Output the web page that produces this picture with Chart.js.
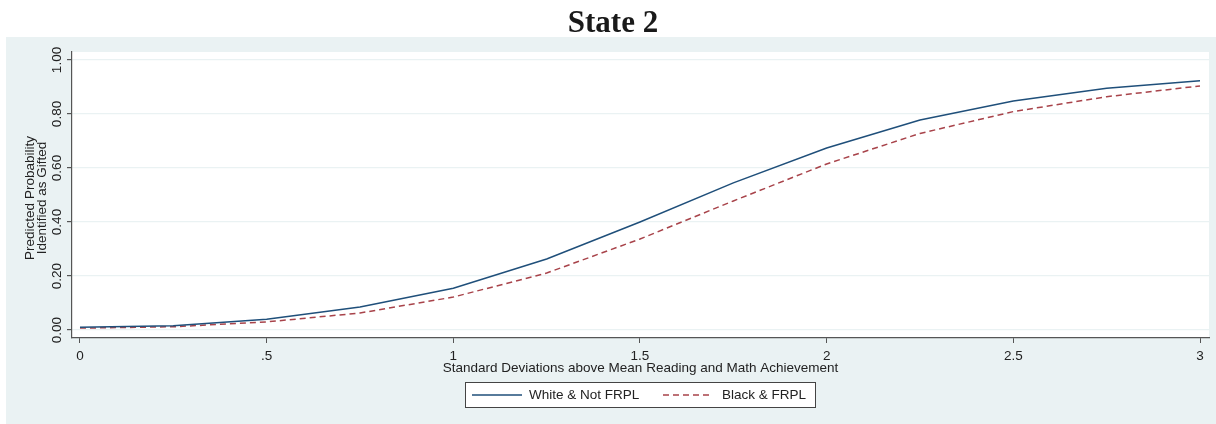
<!DOCTYPE html>
<html lang="en">
<head>
    <meta charset="UTF-8">
    <script src="https://cdn.jsdelivr.net/npm/chart.js"></script>
    <title>State 2</title>
    <style>
        body, html {
            margin: 0;
            padding: 0;
            background: #ffffff;
            overflow: hidden;
        }
        #chart-canvas {
            display: block;
        }
    </style>
</head>
<body>
    <canvas id="chart-canvas" width="1216" height="424"></canvas>
    <script>
        // values
        const sdValues = [0, 0.25, 0.5, 0.75, 1, 1.25, 1.5, 1.75, 2, 2.25, 2.5, 2.75, 3]
        const whiteNotFrpl = [0.010, 0.016, 0.040, 0.085, 0.155, 0.263, 0.400, 0.545, 0.674, 0.778, 0.848, 0.895, 0.923]
        const blackFrpl = [0.007, 0.012, 0.030, 0.063, 0.122, 0.211, 0.337, 0.478, 0.615, 0.728, 0.809, 0.864, 0.904]
        const xTicks = [0, 0.5, 1, 1.5, 2, 2.5, 3]
        const xTickLabels = ['0', '.5', '1', '1.5', '2', '2.5', '3']
        const yTicks = [0, 0.2, 0.4, 0.6, 0.8, 1]
        const yTickLabels = ['0.00', '0.20', '0.40', '0.60', '0.80', '1.00']
        const seriesNames = ['White & Not FRPL', 'Black & FRPL']

        const navy = '#1f4f7a'
        const maroon = '#a8434a'
        const panelColor = '#eaf2f3'
        const axisColor = '#555555'
        const textColor = '#222222'
        const sansFont = '"Liberation Sans", Arial, sans-serif'

        function toPoints(values) {
            return sdValues.map((x, i) => ({ x: x, y: values[i] }))
        }

        const decorPlugin = {
            id: 'decor',
            beforeDraw(chart) {
                const ctx = chart.ctx
                const area = chart.chartArea
                ctx.save()
                ctx.fillStyle = '#ffffff'
                ctx.fillRect(0, 0, chart.width, chart.height)
                ctx.fillStyle = panelColor
                ctx.fillRect(6, 37, chart.width - 6, chart.height - 37)
                ctx.fillStyle = '#ffffff'
                ctx.fillRect(area.left, area.top, area.right - area.left, area.bottom - area.top)
                ctx.restore()
            },
            afterDraw(chart) {
                const ctx = chart.ctx
                const yScale = chart.scales.y
                const area = chart.chartArea
                ctx.save()

                // title
                ctx.fillStyle = '#1a1a1a'
                ctx.font = 'bold 31px "Liberation Serif", "Times New Roman", serif'
                ctx.textAlign = 'center'
                ctx.textBaseline = 'alphabetic'
                ctx.fillText('State 2', 613, 32)

                // y tick labels, vertical like the original
                ctx.font = '13.5px ' + sansFont
                ctx.fillStyle = textColor
                ctx.textAlign = 'center'
                ctx.textBaseline = 'middle'
                yTicks.forEach((v, i) => {
                    const py = yScale.getPixelForValue(v)
                    ctx.save()
                    ctx.translate(57, py)
                    ctx.rotate(-Math.PI / 2)
                    ctx.fillText(yTickLabels[i], 0, 0)
                    ctx.restore()
                })

                // y axis title (two lines)
                ctx.save()
                ctx.translate(0, (area.top + area.bottom) / 2 + 3)
                ctx.rotate(-Math.PI / 2)
                ctx.fillText('Predicted Probability', 0, 30)
                ctx.fillText('Identified as Gifted', 0, 42)
                ctx.restore()

                // x axis title
                ctx.textAlign = 'center'
                ctx.textBaseline = 'middle'
                ctx.fillText('Standard Deviations above Mean Reading and Math Achievement', (area.left + area.right) / 2, 368)

                // legend
                ctx.fillStyle = '#ffffff'
                ctx.fillRect(465, 382, 350, 25)
                ctx.strokeStyle = '#444444'
                ctx.lineWidth = 1
                ctx.strokeRect(465.5, 382.5, 350, 25)

                ctx.lineWidth = 1.5
                ctx.strokeStyle = navy
                ctx.beginPath()
                ctx.moveTo(472, 395)
                ctx.lineTo(522, 395)
                ctx.stroke()

                ctx.strokeStyle = maroon
                ctx.setLineDash([6, 4])
                ctx.beginPath()
                ctx.moveTo(663, 395)
                ctx.lineTo(713, 395)
                ctx.stroke()
                ctx.setLineDash([])

                ctx.fillStyle = textColor
                ctx.textAlign = 'left'
                ctx.fillText(seriesNames[0], 529, 395)
                ctx.fillText(seriesNames[1], 722, 395)

                ctx.restore()
            }
        }

        const ctx = document.getElementById('chart-canvas').getContext('2d')
        const chart = new Chart(ctx, {
            type: 'line',
            data: {
                datasets: [
                    {
                        label: seriesNames[0],
                        data: toPoints(whiteNotFrpl),
                        borderColor: navy,
                        borderWidth: 1.5,
                        pointRadius: 0,
                        tension: 0,
                        fill: false
                    },
                    {
                        label: seriesNames[1],
                        data: toPoints(blackFrpl),
                        borderColor: maroon,
                        borderWidth: 1.5,
                        borderDash: [6, 4],
                        pointRadius: 0,
                        tension: 0,
                        fill: false
                    }
                ]
            },
            options: {
                responsive: false,
                animation: false,
                layout: {
                    padding: { top: 52, right: 7, left: 0, bottom: 0 }
                },
                plugins: {
                    legend: { display: false },
                    tooltip: { enabled: false }
                },
                scales: {
                    x: {
                        type: 'linear',
                        min: -0.0214,
                        max: 3.0241,
                        afterBuildTicks: (scale) => {
                            scale.ticks = xTicks.map(v => ({ value: v }))
                        },
                        afterFit: (scale) => {
                            scale.height = 86
                        },
                        ticks: {
                            color: textColor,
                            font: { family: sansFont, size: 13.5 },
                            padding: 5,
                            maxRotation: 0,
                            callback: (value) => {
                                const i = xTicks.indexOf(value)
                                return i >= 0 ? xTickLabels[i] : ''
                            }
                        },
                        grid: {
                            drawOnChartArea: false,
                            drawTicks: true,
                            tickLength: 5,
                            tickColor: axisColor
                        },
                        border: { display: true, color: axisColor, width: 1.2 }
                    },
                    y: {
                        type: 'linear',
                        min: -0.0296,
                        max: 1.0296,
                        afterBuildTicks: (scale) => {
                            scale.ticks = yTicks.map(v => ({ value: v }))
                        },
                        afterFit: (scale) => {
                            scale.width = 72
                        },
                        ticks: { display: false },
                        grid: {
                            color: panelColor,
                            lineWidth: 1.2,
                            drawTicks: true,
                            tickLength: 5,
                            tickColor: axisColor
                        },
                        border: { display: true, color: axisColor, width: 1.2 }
                    }
                }
            },
            plugins: [decorPlugin]
        })
    </script>
</body>
</html>
